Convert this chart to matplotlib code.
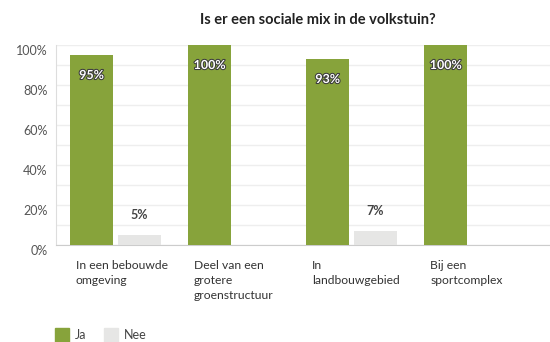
import matplotlib.pyplot as plt
import matplotlib.patheffects as pe
from matplotlib.patches import Rectangle
import numpy as np

# -----------------------------
# Data
# -----------------------------
categories = ["In een bebouwde\nomgeving", "Deel van een\ngrotere\ngroenstructuur",
              "In\nlandbouwgebied", "Bij een\nsportcomplex"]
ja = [95, 100, 93, 100]
nee = [5, 0, 7, 0]
yticks = [0, 20, 40, 60, 80, 100]

green = "#87A33B"
grey = "#E6E6E5"
plt.rcParams['font.family'] = ['Lato', 'DejaVu Sans']

fig = plt.figure(figsize=(5.5, 3.42), dpi=100)
ax = fig.add_axes([56 / 550, 1 - 245 / 342, 494 / 550, 200 / 342])

x = np.arange(len(categories))
w = 0.364
off = 0.203
ax.bar(x - off, ja, w, color=green, zorder=3)
ax.bar(x + off, nee, w, color=grey, zorder=3)

# value labels
for xi, v in zip(x, ja):
    ax.text(xi - off, v - 10, f"{v}%", ha="center", va="center", fontsize=9,
            fontweight="bold", color="white", zorder=4,
            path_effects=[pe.withStroke(linewidth=1.5, foreground="#3b3b3b")])
for xi, v in zip(x, nee):
    if v > 0:
        ax.text(xi + off, v + 10, f"{v}%", ha="center", va="center", fontsize=9,
                fontweight="bold", color="#444444", zorder=4)

ax.set_xlim(-0.504, 3.68)
ax.set_ylim(0, 100)
ax.set_yticks(yticks)
ax.set_yticklabels([f"{t}%" for t in yticks])
ax.set_yticks(np.arange(0, 101, 10), minor=True)
ax.tick_params(axis="y", which="both", length=0, pad=6, labelsize=9, labelcolor="#555555")
for lab in ax.get_yticklabels():
    lab.set_va("top")
ax.set_xticks([])
ax.grid(axis="y", which="both", color="#EEEEEE", linewidth=1, zorder=0)
for s in ["top", "right"]:
    ax.spines[s].set_visible(False)
ax.spines["left"].set_color("#DDDDDD")
ax.spines["bottom"].set_color("#CCCCCC")

# category labels, left aligned under the bars
for xi, c in zip(x, categories):
    ax.annotate(c, xy=(xi - off - w / 2 + 0.05, 0), xytext=(0, -11),
                textcoords="offset points", ha="left", va="top", fontsize=8.7,
                color="#333333", linespacing=1.45, annotation_clip=False)

fig.text(318 / 550, 1 - 20 / 342, "Is er een sociale mix in de volkstuin?",
         ha="center", va="center", fontsize=10.5, fontweight="bold", color="#222222")

# legend
fig.patches.append(Rectangle((55 / 550, 0), 14 / 550, 14 / 342, color=green,
                             transform=fig.transFigure, figure=fig))
fig.patches.append(Rectangle((104 / 550, 0), 14 / 550, 14 / 342, color=grey,
                             transform=fig.transFigure, figure=fig))
fig.text(75 / 550, 1 / 342, "Ja", ha="left", va="bottom", fontsize=9, color="#444444")
fig.text(124 / 550, 1 / 342, "Nee", ha="left", va="bottom", fontsize=9, color="#444444")

fig.savefig("out.png", dpi=100)
